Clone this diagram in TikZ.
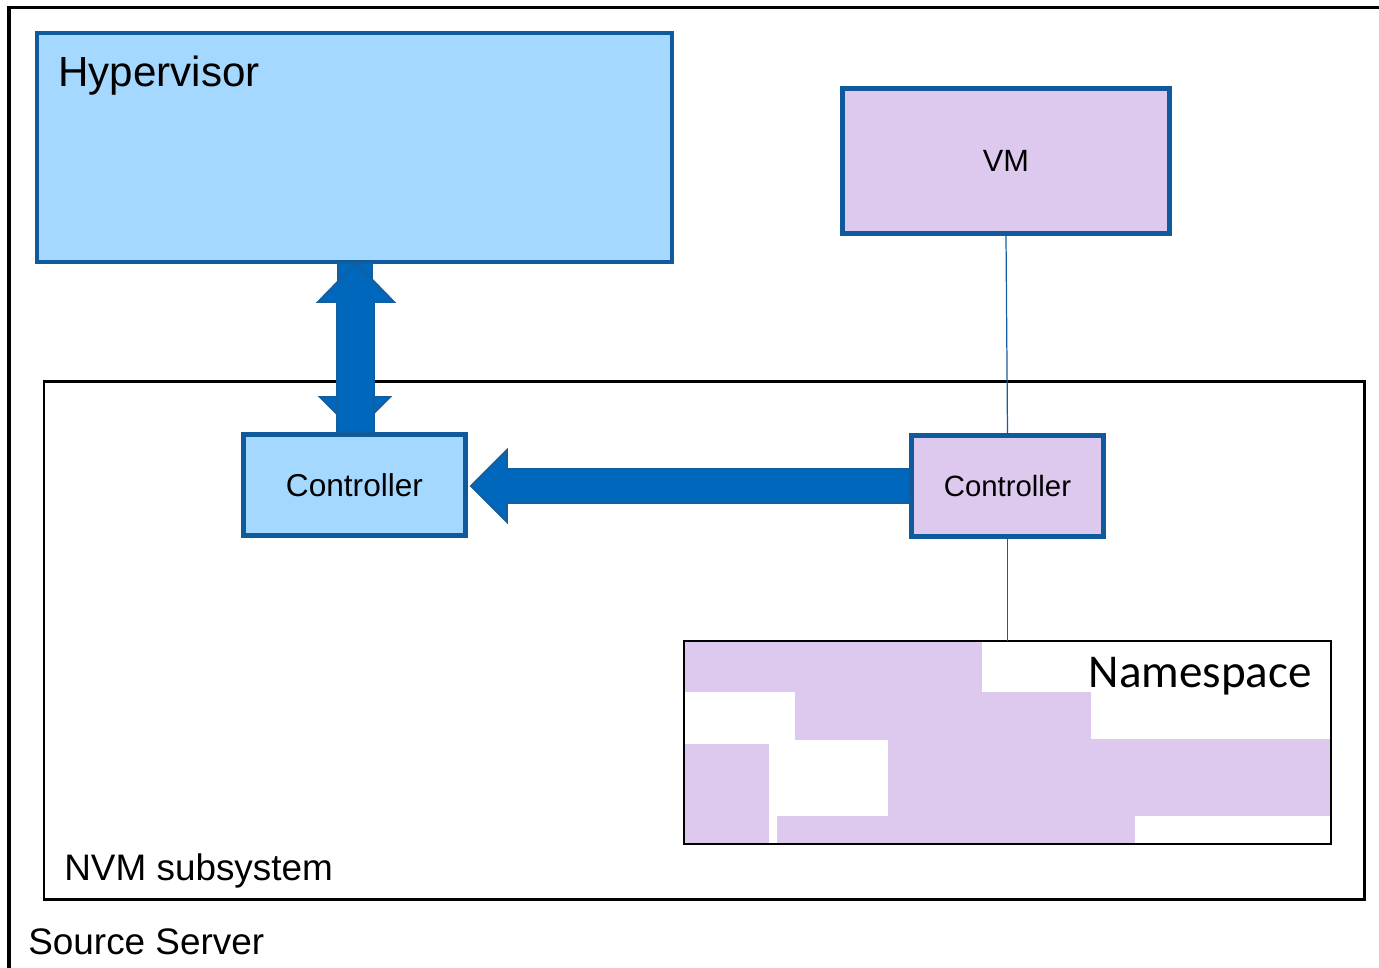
\documentclass[tikz,border=0pt]{standalone}
\usepackage{fontspec}
\setmainfont{Liberation Sans}
\newfontfamily\nsfont{Carlito}
\definecolor{hypfill}{HTML}{A4D8FE}
\definecolor{boxedge}{HTML}{0E5A9C}
\definecolor{vmfill}{HTML}{DDC8EE}
\definecolor{arrowfill}{HTML}{0068BC}
\definecolor{arrowedge}{HTML}{155E9E}
\tikzset{
  hypbox/.style={draw=boxedge, fill=hypfill, line width=2.3pt},
  vmbox/.style={draw=boxedge, fill=vmfill, line width=2.3pt},
  blackbox/.style={draw=black, line width=1.7pt},
  fatarrow/.style={draw=arrowedge, fill=arrowfill, line width=1.1pt, line join=miter},
  link/.style={draw=arrowedge, line width=0.7pt},
  patch/.style={fill=vmfill, draw=none},
  lbl/.style={anchor=base west, inner sep=0pt},
}
\begin{document}
\begin{tikzpicture}[x=0.02cm, y=-0.02cm]
\useasboundingbox (0,0) rectangle (1379,967);
% source server outline (cut off at right and bottom)
\draw[line width=1.8pt] (9,975) -- (9,7.5) -- (1390,7.5);
\node[lbl, font=\fontsize{21pt}{25pt}\selectfont] (src) at (28,954) {Source Server};

% NVM subsystem
\draw[blackbox] (44,381) rectangle (1364,899);
\coordinate (nvm) at (44,381);
\node[lbl, font=\fontsize{21pt}{25pt}\selectfont] (nvmlbl) at (64,880) {NVM subsystem};

% Hypervisor
\draw[hypbox] (37,33) rectangle (672,262);
\node[lbl, font=\fontsize{24pt}{28pt}\selectfont] (hyp) at (58,86) {Hypervisor};

% VM
\node[vmbox, minimum width=327*0.02cm, minimum height=145*0.02cm, inner sep=0pt,
      font=\fontsize{17.5pt}{20pt}\selectfont] (vm) at (1006,161) {VM};

% controllers
\node[hypbox, minimum width=222*0.02cm, minimum height=101*0.02cm, inner sep=0pt,
      font=\fontsize{18pt}{21pt}\selectfont] (c1) at (354.5,485) {Controller};
\node[vmbox, minimum width=192*0.02cm, minimum height=101*0.02cm, inner sep=0pt,
      font=\fontsize{16.7pt}{20pt}\selectfont] (c2) at (1007.5,486) {Controller};

% namespace
\fill[patch] (684,641) rectangle (982,692);
\fill[patch] (795,692) rectangle (1091,740);
\fill[patch] (888,739) rectangle (1331,816);
\fill[patch] (684,744) rectangle (769,844);
\fill[patch] (777,816) rectangle (1135,844);
\draw[draw=black, line width=1.1pt] (684,641) rectangle (1331,844);
\node[anchor=base east, inner sep=0pt, font=\nsfont\fontsize{26.8pt}{30pt}\selectfont] (nslbl) at (1312,687) {Namespace};
\coordinate (ns) at (1007.5,641);

% thin connectors
\draw[link] (vm.south) -- (c2.north);
\draw[link] (c2.south) -- (ns);

% double vertical arrow: down arrow underneath
\filldraw[fatarrow] (338,263) -- (372,263) -- (372,397) -- (390,397) -- (355,432) -- (320,397) -- (338,397) -- cycle;
% up arrow on top
\filldraw[fatarrow] (337,432) -- (374,432) -- (374,302) -- (394,302) -- (356,263) -- (318,302) -- (337,302) -- cycle;

% horizontal arrow from right controller to left controller
\filldraw[fatarrow] (c2.west |- 0,469) -- (507,469) -- (507,450) -- (471,486) -- (507,522) -- (507,503) -- (c2.west |- 0,503) -- cycle;
\end{tikzpicture}
\end{document}
